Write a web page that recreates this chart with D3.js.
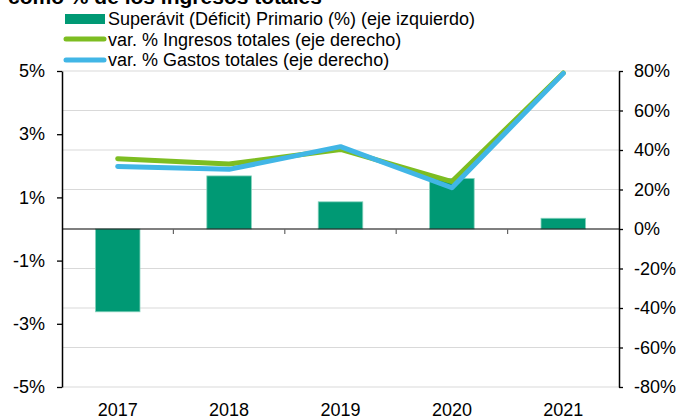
<!DOCTYPE html>
<html>
<head>
<meta charset="utf-8">
<script src="https://cdn.jsdelivr.net/npm/d3@7"></script>
<style>
  body { margin: 0; background: white; }
  svg { font-family: "Liberation Sans", Arial, sans-serif; }
</style>
</head>
<body>
<main></main>
<script>
const years = ["2017", "2018", "2019", "2020", "2021"]
const primario = [-2.62, 1.68, 0.86, 1.6, 0.34]
const ingresos = [35.6, 32.9, 40.3, 24.0, 79.0]
const gastos = [31.7, 30.2, 41.7, 20.9, 78.8]
const leftTicks = [-5, -3, -1, 1, 3, 5]
const rightTicks = [-80, -60, -40, -20, 0, 20, 40, 60, 80]
const legendLabels = [
    "Superávit (Déficit) Primario (%) (eje izquierdo)",
    "var. % Ingresos totales (eje derecho)",
    "var. % Gastos totales (eje derecho)"
]
const titleText = "como % de los ingresos totales"

const svgWidth = 678
const svgHeight = 419
const plotLeft = 62, plotRight = 619, plotTop = 71, plotBottom = 387

const barColor = "#009974"
const greenColor = "#7dbd21"
const blueColor = "#41b6e6"

let svg = d3.select("main")
    .append("svg")
    .attr("width", svgWidth)
    .attr("height", svgHeight)

/* Scales */

let xScale = d3.scaleBand()
    .domain(years)
    .range([plotLeft, plotRight])

let yLeft = d3.scaleLinear()
    .domain([-5, 5])
    .range([plotBottom, plotTop])

let yRight = d3.scaleLinear()
    .domain([-80, 80])
    .range([plotBottom, plotTop])

/* Title (cut off at top, as in the source image) */

svg.append("text")
    .attr("x", 8)
    .attr("y", 4)
    .attr("font-size", 21)
    .attr("font-weight", "bold")
    .attr("fill", "#000")
    .text(titleText)

/* Gridlines from right axis */

svg.append("g")
    .selectAll("line")
    .data(rightTicks.filter(d => d !== 0))
    .enter()
    .append("line")
    .attr("x1", plotLeft)
    .attr("x2", plotRight)
    .attr("y1", d => yRight(d))
    .attr("y2", d => yRight(d))
    .attr("stroke", "#d9d9d9")
    .attr("stroke-width", 1)

/* Bars */

let barW = xScale.bandwidth() * 0.4

svg.append("g")
    .selectAll("rect")
    .data(primario)
    .enter()
    .append("rect")
    .attr("x", (d, i) => xScale(years[i]) + (xScale.bandwidth() - barW) / 2)
    .attr("y", d => yLeft(Math.max(0, d)))
    .attr("width", barW)
    .attr("height", d => Math.abs(yLeft(d) - yLeft(0)))
    .attr("fill", barColor)
    .attr("stroke", "#86d2bd")
    .attr("stroke-width", 0.8)

/* Zero line + category ticks */

svg.append("line")
    .attr("x1", plotLeft)
    .attr("x2", plotRight)
    .attr("y1", yLeft(0))
    .attr("y2", yLeft(0))
    .attr("stroke", "#000")
    .attr("stroke-width", 1.2)

svg.append("g")
    .selectAll("line")
    .data(years.slice(1))
    .enter()
    .append("line")
    .attr("x1", d => xScale(d))
    .attr("x2", d => xScale(d))
    .attr("y1", yLeft(0))
    .attr("y2", yLeft(0) + 5)
    .attr("stroke", "#666")
    .attr("stroke-width", 1.2)

/* Lines */

let lineGen = d3.line()
    .x((d, i) => xScale(years[i]) + xScale.bandwidth() / 2)
    .y(d => yRight(d))

svg.append("path")
    .datum(ingresos)
    .attr("d", lineGen)
    .attr("fill", "none")
    .attr("stroke", greenColor)
    .attr("stroke-width", 5)
    .attr("stroke-linecap", "round")
    .attr("stroke-linejoin", "round")

svg.append("path")
    .datum(gastos)
    .attr("d", lineGen)
    .attr("fill", "none")
    .attr("stroke", blueColor)
    .attr("stroke-width", 5)
    .attr("stroke-linecap", "round")
    .attr("stroke-linejoin", "round")

/* Axes */

let leftAxis = svg.append("g")
    .attr("transform", `translate(${plotLeft}, 0)`)
    .call(d3.axisLeft(yLeft)
        .tickValues(leftTicks)
        .tickSize(5)
        .tickSizeOuter(0)
        .tickPadding(12)
        .tickFormat(d => d + "%"))

let rightAxis = svg.append("g")
    .attr("transform", `translate(${plotRight}, 0)`)
    .call(d3.axisRight(yRight)
        .tickValues(rightTicks)
        .tickSize(4)
        .tickSizeOuter(0)
        .tickPadding(11)
        .tickFormat(d => d + "%"))

let bottomAxis = svg.append("g")
    .attr("transform", `translate(0, ${plotBottom})`)
    .call(d3.axisBottom(xScale)
        .tickSize(0)
        .tickPadding(16))

bottomAxis.select(".domain").remove()

for (let ax of [leftAxis, rightAxis, bottomAxis]) {
    ax.selectAll("text")
        .attr("font-size", 18)
        .attr("font-family", "Liberation Sans, Arial, sans-serif")
        .attr("fill", "#000")
    ax.selectAll("line").attr("stroke", "#000").attr("stroke-width", 1.3)
    ax.select(".domain").attr("stroke", "#000").attr("stroke-width", 1.5)
}

/* Legend */

let legend = svg.append("g")
let rowY = [19, 40, 60]

legend.append("rect")
    .attr("x", 65).attr("y", rowY[0] - 5)
    .attr("width", 40).attr("height", 10)
    .attr("fill", barColor)

legend.append("line")
    .attr("x1", 66).attr("x2", 104)
    .attr("y1", rowY[1] - 1).attr("y2", rowY[1] - 1)
    .attr("stroke", greenColor).attr("stroke-width", 5)
    .attr("stroke-linecap", "round")

legend.append("line")
    .attr("x1", 66).attr("x2", 104)
    .attr("y1", rowY[2]).attr("y2", rowY[2])
    .attr("stroke", blueColor).attr("stroke-width", 5)
    .attr("stroke-linecap", "round")

legend.selectAll("text")
    .data(legendLabels)
    .enter()
    .append("text")
    .attr("x", 108)
    .attr("y", (d, i) => rowY[i] + 6)
    .attr("font-size", 18)
    .attr("fill", "#000")
    .text(d => d)
</script>
</body>
</html>
